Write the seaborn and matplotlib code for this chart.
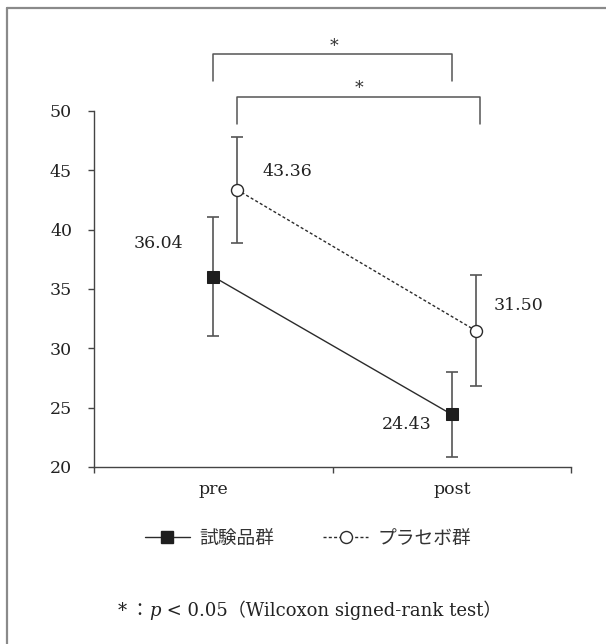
import numpy as np
import pandas as pd
import matplotlib
matplotlib.use("Agg")
import matplotlib.pyplot as plt
import seaborn as sns
from matplotlib.lines import Line2D

# ---- data ----
categories = ["pre", "post"]
series_names = ["試験品群", "プラセボ群"]
test_means = [36.04, 24.43]
test_sd = [5.0, 3.55]
placebo_means = [43.36, 31.50]
placebo_sd = [4.45, 4.67]
value_labels_test = ["36.04", "24.43"]
value_labels_placebo = ["43.36", "31.50"]
yticks = [20, 25, 30, 35, 40, 45, 50]
footnote_parts = ["*", "：", "p", " < 0.05（Wilcoxon signed-rank test）"]

sns.set_theme(style="white")
SERIF = ["DejaVu Serif", "Noto Sans CJK JP"]
plt.rcParams["font.family"] = SERIF

W, H = 606, 644
fig = plt.figure(figsize=(W / 100, H / 100), dpi=100)
ax = fig.add_axes([94 / W, 1 - 467 / H, (571 - 94) / W, (467 - 111) / H])

offsets = [0.0, 0.1]
df = pd.DataFrame({
    "x": [i + offsets[0] for i in range(len(categories))] + [i + offsets[1] for i in range(len(categories))],
    "y": test_means + placebo_means,
    "sd": test_sd + placebo_sd,
    "group": [series_names[0]] * len(categories) + [series_names[1]] * len(categories),
})

LC = "#2b2b2b"
EC = "#555555"
PT = 1 / 1.389  # px -> pt

# error bars
for g in series_names:
    d = df[df.group == g]
    ax.errorbar(d.x, d.y, yerr=d.sd, fmt="none", ecolor=EC, elinewidth=1.2,
                capsize=6 * PT, capthick=1.2, zorder=2)

sns.lineplot(data=df, x="x", y="y", hue="group", style="group",
             palette={series_names[0]: LC, series_names[1]: LC},
             markers={series_names[0]: "s", series_names[1]: "o"},
             dashes={series_names[0]: "", series_names[1]: (2.2, 1.6)},
             markersize=12 * PT, linewidth=1.0, legend=False, ax=ax, zorder=3,
             estimator=None, sort=False)
for ln in ax.lines:
    if ln.get_marker() == "o":
        ln.set_markerfacecolor("white")
        ln.set_markeredgecolor(LC)
        ln.set_markeredgewidth(1.0)
    elif ln.get_marker() == "s":
        ln.set_markerfacecolor("#1e1e1e")
        ln.set_markeredgecolor("#1e1e1e")

# value labels
FS = 12.5
lab_off_test = [(-55, 33), (-45, -10)]
lab_off_plac = [(50, 18), (43, 25)]
for i in range(len(categories)):
    ax.annotate(value_labels_test[i], (i + offsets[0], test_means[i]),
                xytext=(lab_off_test[i][0] * PT, lab_off_test[i][1] * PT),
                textcoords="offset points", ha="center", va="center",
                fontsize=FS, color="#222222")
    ax.annotate(value_labels_placebo[i], (i + offsets[1], placebo_means[i]),
                xytext=(lab_off_plac[i][0] * PT, lab_off_plac[i][1] * PT),
                textcoords="offset points", ha="center", va="center",
                fontsize=FS, color="#222222")

# axes styling
ax.set_xlim(-0.5, len(categories) - 0.5)
ax.set_ylim(20, 50)
ax.set_yticks(yticks)
ax.set_yticklabels([str(t) for t in yticks], fontsize=FS, color="#222222")
ax.set_xticks(np.arange(len(categories) + 1) - 0.5)
ax.set_xticklabels([""] * (len(categories) + 1))
ax.set_xticks(np.arange(len(categories)), minor=True)
ax.set_xticklabels(categories, minor=True, fontsize=FS, color="#222222")
ax.tick_params(axis="x", which="major", direction="out", length=6 * PT, width=1.0, color="#444444", bottom=True)
ax.tick_params(axis="x", which="minor", length=0, pad=14 * PT, bottom=True)
ax.tick_params(axis="y", direction="out", length=6 * PT, width=1.0, color="#444444", pad=16 * PT, left=True)
for s in ["top", "right"]:
    ax.spines[s].set_visible(False)
for s in ["left", "bottom"]:
    ax.spines[s].set_color("#444444")
    ax.spines[s].set_linewidth(1.0)
ax.set_xlabel("")
ax.set_ylabel("")
ax.grid(False)
ax.set_facecolor("white")

# significance brackets
BC = "#555555"
ax.plot([0.0, 0.0, 1.0, 1.0], [52.5, 54.8, 54.8, 52.5], color=BC, lw=1.1, clip_on=False)
ax.plot([0.1, 0.1, 1.12, 1.12], [48.9, 51.2, 51.2, 48.9], color=BC, lw=1.1, clip_on=False)
ax.text(0.505, 55.45, "*", ha="center", va="center", fontsize=12.5, color="#333333", clip_on=False)
ax.text(0.61, 51.9, "*", ha="center", va="center", fontsize=12.5, color="#333333", clip_on=False)

# legend
handles = [
    Line2D([], [], color=LC, lw=1.0, marker="s", ms=12 * PT, mfc="#1e1e1e", mec="#1e1e1e"),
    Line2D([], [], color=LC, lw=1.0, ls=(0, (2.2, 1.6)), marker="o", ms=12 * PT, mfc="white", mec=LC),
]
fig.legend(handles, series_names, loc="center", bbox_to_anchor=(308 / W, 1 - 538 / H),
           ncol=2, frameon=False, handlelength=2.4, columnspacing=2.6, handletextpad=0.5,
           prop={"family": ["Noto Sans CJK JP"], "size": 13.5}, labelcolor="#333333")

# frame (left + top visible)
fig.add_artist(Line2D([7 / W, 7 / W], [0, 1 - 8 / H], transform=fig.transFigure, color="#8a8a8a", lw=1.6))
fig.add_artist(Line2D([7 / W, 1], [1 - 8 / H, 1 - 8 / H], transform=fig.transFigure, color="#8a8a8a", lw=1.6))

# footnote
fig.canvas.draw()
renderer = fig.canvas.get_renderer()
FFS = 13
x = 118
ybase = 616
styles = [dict(family=SERIF), dict(family=SERIF), dict(family=["DejaVu Serif"], style="italic"), dict(family=SERIF)]
dy = [0, 0, 0, 0]
gaps = [3, 1, 0, 0]
for part, st, d, gp in zip(footnote_parts, styles, dy, gaps):
    t = fig.text(x / W, 1 - (ybase + d) / H, part, ha="left", va="baseline", fontsize=FFS, color="#222222", **st)
    bb = t.get_window_extent(renderer)
    x += bb.width + gp

fig.savefig("out.png", dpi=100, facecolor="white")
